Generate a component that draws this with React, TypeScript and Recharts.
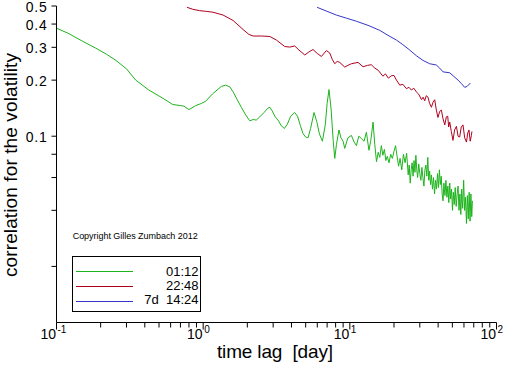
import { LineChart, Line, XAxis, YAxis, Legend, Label } from "recharts";

// time lag in days, correlation of the volatility
const GREEN_LAG = [
  0.1, 0.12, 0.15, 0.185, 0.22, 0.253, 0.3, 0.347, 0.426, 0.53, 0.62, 0.7, 0.738, 0.8, 0.89, 0.973, 1.04, 1.16,
  1.33, 1.42, 1.52, 1.6, 1.7, 1.82, 1.95, 2.08, 2.2, 2.3, 2.43, 2.6, 2.75, 2.85, 2.95, 3.1, 3.24, 3.4, 3.58, 3.75,
  3.95, 4.21, 4.4, 4.6, 4.8, 5.0, 5.19, 5.4, 5.7, 5.95, 6.2, 6.5, 6.8, 7.0, 7.21, 7.45, 7.7, 7.89, 8.1, 8.43, 8.7,
  9.0, 9.23, 9.7, 10.25, 10.7, 11.09, 11.5, 12.0, 12.5, 12.97, 13.5, 13.9, 14.4, 14.8, 15.2, 15.6, 16.0, 16.4, 16.8,
  17.2, 17.6, 18.0, 18.5, 19.0, 19.5, 20.0, 20.5, 21.0, 21.5, 22.0, 22.6, 23.2, 23.8, 24.4, 25.0, 25.4, 25.8, 26.2,
  26.6, 27.0, 27.4, 27.8, 28.2, 28.6, 29.0, 29.5, 30.0, 30.5, 31.0, 31.5, 32.0, 32.5, 33.0, 33.5, 34.0, 34.5, 35.0,
  35.5, 36.0, 36.6, 37.2, 37.8, 38.4, 39.0, 39.6, 40.2, 40.8, 41.4, 42.0, 42.6, 43.2, 43.8, 44.5, 45.2, 45.9, 46.6,
  47.3, 48.0, 48.7, 49.4, 50.1, 50.8, 51.5, 52.3, 53.1, 53.9, 54.7, 55.5, 56.3, 57.1, 57.9, 58.8, 59.7, 60.6, 61.5,
  62.4, 63.3, 64.2, 65.1, 66.0, 66.9, 67.8, 68.5,
];
const GREEN_CORR = [
  0.38, 0.357, 0.324, 0.297, 0.275, 0.256, 0.23, 0.2, 0.177, 0.16, 0.148, 0.146, 0.145, 0.139, 0.146, 0.15, 0.154,
  0.169, 0.185, 0.188, 0.184, 0.173, 0.158, 0.143, 0.13, 0.121, 0.123, 0.122, 0.127, 0.134, 0.141, 0.143, 0.137,
  0.127, 0.122, 0.114, 0.11, 0.116, 0.128, 0.134, 0.128, 0.114, 0.103, 0.099, 0.098, 0.11, 0.134, 0.12, 0.103, 0.094,
  0.115, 0.15, 0.178, 0.14, 0.095, 0.076, 0.09, 0.108, 0.098, 0.094, 0.086, 0.098, 0.101, 0.093, 0.089, 0.1, 0.097,
  0.094, 0.105, 0.084, 0.095, 0.119, 0.09, 0.073, 0.082, 0.077, 0.089, 0.079, 0.085, 0.074, 0.078, 0.072, 0.08,
  0.076, 0.083, 0.089, 0.078, 0.069, 0.076, 0.066, 0.08, 0.072, 0.081, 0.062, 0.07, 0.056, 0.066, 0.072, 0.061,
  0.074, 0.064, 0.079, 0.066, 0.06, 0.071, 0.063, 0.058, 0.068, 0.06, 0.054, 0.066, 0.07, 0.061, 0.077, 0.058,
  0.065, 0.055, 0.062, 0.052, 0.06, 0.049, 0.058, 0.052, 0.063, 0.053, 0.066, 0.055, 0.061, 0.049, 0.045, 0.056,
  0.048, 0.058, 0.047, 0.054, 0.044, 0.056, 0.046, 0.052, 0.04, 0.05, 0.043, 0.053, 0.042, 0.049, 0.054, 0.04,
  0.049, 0.038, 0.052, 0.041, 0.058, 0.04, 0.047, 0.034, 0.048, 0.036, 0.05, 0.035, 0.049, 0.037, 0.045,
];

const RED_LAG = [
  0.776, 0.85, 0.948, 1.05, 1.168, 1.367, 1.6, 1.87, 2.05, 2.19, 2.5, 2.85, 3.16, 3.6, 3.9, 4.21, 4.5, 4.93, 5.25,
  5.61, 6.0, 6.4, 6.92, 7.29, 7.6, 7.89, 8.2, 8.53, 9.23, 9.7, 10.25, 11.37, 12.3, 13.2, 14.0, 14.8, 15.6, 16.8,
  17.5, 18.3, 19.2, 20.0, 20.8, 21.9, 23.0, 24.3, 25.3, 26.3, 27.3, 28.4, 29.5, 30.8, 31.6, 32.4, 33.2, 34.1, 35.0,
  36.0, 36.9, 37.9, 38.9, 39.9, 41.0, 42.1, 43.2, 44.4, 45.5, 46.5, 47.2, 48.0, 49.2, 50.5, 51.8, 53.3, 54.7, 56.1,
  57.5, 59.1, 60.7, 62.4, 63.7, 64.9, 66.2, 67.4, 68.0,
];
const RED_CORR = [
  0.492, 0.48, 0.472, 0.468, 0.463, 0.447, 0.418, 0.374, 0.352, 0.345, 0.345, 0.343, 0.328, 0.303, 0.301, 0.305,
  0.29, 0.273, 0.283, 0.292, 0.278, 0.268, 0.288, 0.28, 0.258, 0.245, 0.252, 0.249, 0.235, 0.24, 0.245, 0.249,
  0.236, 0.24, 0.242, 0.232, 0.226, 0.21, 0.216, 0.205, 0.211, 0.212, 0.2, 0.188, 0.19, 0.18, 0.183, 0.177, 0.181,
  0.173, 0.168, 0.157, 0.162, 0.155, 0.165, 0.162, 0.15, 0.143, 0.152, 0.157, 0.138, 0.126, 0.136, 0.138, 0.124,
  0.115, 0.127, 0.128, 0.112, 0.119, 0.106, 0.095, 0.108, 0.113, 0.1, 0.099, 0.112, 0.115, 0.098, 0.093, 0.104,
  0.108, 0.094, 0.101, 0.106,
];

const BLUE_LAG = [
  5.98, 7.0, 8.1, 9.5, 11.1, 13.5, 16.0, 18.2, 20.8, 23.0, 25.6, 28.5, 31.6, 35.0, 38.9, 41.0, 43.2, 48.0, 51.0,
  54.7, 57.5, 60.7, 63.0, 66.4,
];
const BLUE_CORR = [
  0.492, 0.468, 0.447, 0.43, 0.414, 0.392, 0.37, 0.348, 0.328, 0.31, 0.29, 0.27, 0.255, 0.245, 0.241, 0.232, 0.2215,
  0.219, 0.21, 0.2, 0.192, 0.183, 0.185, 0.193,
];

const SERIES_NAMES = ["01:12", "22:48", "7d  14:24"];
const SERIES_COLORS = ["#1db31d", "#b0001e", "#3535c8"];

const X_TICKS = [
  0.1, 0.2, 0.3, 0.4, 0.5, 0.6, 0.7, 0.8, 0.9, 1, 2, 3, 4, 5, 6, 7, 8, 9, 10, 20, 30, 40, 50, 60, 70, 80, 90, 100,
];
const X_MAJOR = [0.1, 1, 10, 100];
const X_EXPONENTS = ["-1", "0", "1", "2"];
const Y_TICKS = [0.02, 0.04, 0.06, 0.08, 0.1, 0.2, 0.3, 0.4, 0.5];
const Y_LABELLED = [0.1, 0.2, 0.3, 0.4, 0.5];
const Y_LABELS = ["0.1", "0.2", "0.3", "0.4", "0.5"];

const zip = (xs: number[], ys: number[]) => xs.map((x, i) => ({ x, y: ys[i] }));
const green = zip(GREEN_LAG, GREEN_CORR);
const red = zip(RED_LAG, RED_CORR);
const blue = zip(BLUE_LAG, BLUE_CORR);

const FONT = "'Liberation Sans', Arial, sans-serif";

function XTick(props: any) {
  const { x, y, payload } = props;
  const i = X_MAJOR.findIndex((v) => Math.abs(v - payload.value) < 1e-9);
  const major = i >= 0;
  return (
    <g>
      <line x1={x} x2={x} y1={y} y2={y + (major ? 7 : 5)} stroke="#000" />
      {major && (
        <text fontFamily={FONT} fill="#000">
          <tspan x={x - 0.5} y={y + 16} fontSize={14} textAnchor="end">
            10
          </tspan>
          <tspan x={x + 1} y={y + 10} fontSize={10} textAnchor="start">
            {X_EXPONENTS[i]}
          </tspan>
        </text>
      )}
    </g>
  );
}

function YTick(props: any) {
  const { x, y, payload } = props;
  const i = Y_LABELLED.findIndex((v) => Math.abs(v - payload.value) < 1e-9);
  return (
    <g>
      <line x1={x} x2={x - 5} y1={y} y2={y} stroke="#000" />
      {i >= 0 && (
        <text x={x - 9} y={y + 5.5} fontFamily={FONT} fontSize={14} letterSpacing={0.8} textAnchor="end" fill="#000">
          {Y_LABELS[i]}
        </text>
      )}
    </g>
  );
}

// Legend box plus the copyright line above it, drawn in one small svg
function LegendBox({ payload }: any) {
  const items = payload || [];
  return (
    <svg width={135} height={90} style={{ display: "block", overflow: "visible" }}>
      <text x={2.7} y={12.5} fontFamily={FONT} fontSize={9} textLength={125} fill="#000">
        Copyright Gilles Zumbach 2012
      </text>
      <rect x={2.5} y={30.5} width={128} height={55} fill="#fff" stroke="#000" />
      {items.map((it: any, k: number) => (
        <g key={k}>
          <line x1={6} x2={63} y1={45.5 + k * 15} y2={45.5 + k * 15} stroke={it.color} />
          <text
            x={128.5}
            y={49.5 + k * 14.2}
            fontFamily={FONT}
            fontSize={13}
            textAnchor="end"
            fill="#000"
            style={{ whiteSpace: "pre" }}
          >
            {it.value}
          </text>
        </g>
      ))}
    </svg>
  );
}

export default function App() {
  return (
    <div style={{ position: "absolute", left: 0, top: 0, width: 512, height: 366, background: "#fff" }}>
      <LineChart width={512} height={366} margin={{ top: 6, right: 15.5, left: 0, bottom: 0 }}>
        <XAxis
          type="number"
          dataKey="x"
          scale="log"
          domain={[0.1, 100]}
          allowDataOverflow
          ticks={X_TICKS}
          interval={0}
          tick={<XTick />}
          tickLine={false}
          tickSize={0}
          tickMargin={0}
          height={43.5}
          axisLine={{ stroke: "#000" }}
        >
          <Label
            content={() => (
              <text x={275} y={358} fontFamily={FONT} fontSize={19} textLength={116} fill="#000" textAnchor="middle" style={{ whiteSpace: "pre" }}>
                time lag  [day]
              </text>
            )}
          />
        </XAxis>
        <YAxis
          type="number"
          scale="log"
          domain={[0.01, 0.5]}
          allowDataOverflow
          ticks={Y_TICKS}
          interval={0}
          tick={<YTick />}
          tickLine={false}
          tickSize={0}
          tickMargin={0}
          width={56.5}
          axisLine={{ stroke: "#000" }}
        >
          <Label
            content={() => (
              <text
                x={16.5}
                y={165}
                fontFamily={FONT}
                fontSize={19}
                textLength={224}
                fill="#000"
                textAnchor="middle"
                transform="rotate(-90, 16.5, 165)"
              >
                correlation for the volatility
              </text>
            )}
          />
        </YAxis>
        <Legend
          layout="vertical"
          align="center"
          verticalAlign="middle"
          content={<LegendBox />}
          wrapperStyle={{ left: 70, top: 226, width: 135, height: 90 }}
        />
        <Line data={green} dataKey="y" name={SERIES_NAMES[0]} type="linear" stroke={SERIES_COLORS[0]} strokeWidth={1} dot={false} isAnimationActive={false} />
        <Line data={red} dataKey="y" name={SERIES_NAMES[1]} type="linear" stroke={SERIES_COLORS[1]} strokeWidth={1} dot={false} isAnimationActive={false} />
        <Line data={blue} dataKey="y" name={SERIES_NAMES[2]} type="linear" stroke={SERIES_COLORS[2]} strokeWidth={1} dot={false} isAnimationActive={false} />
      </LineChart>
    </div>
  );
}
